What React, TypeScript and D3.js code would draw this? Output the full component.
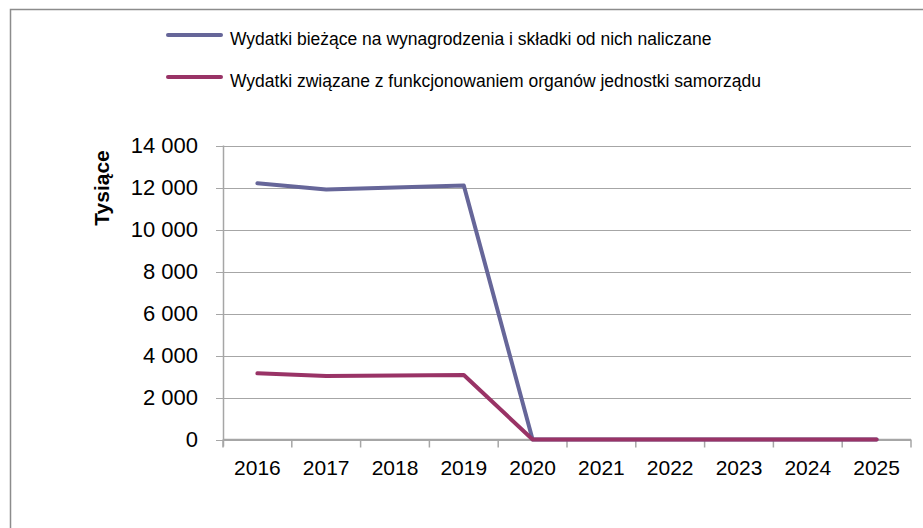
import React, { useEffect, useRef } from "react";
import * as d3 from "d3";

const years = ["2016", "2017", "2018", "2019", "2020", "2021", "2022", "2023", "2024", "2025"];
const wynagrodzenia = [12200, 11900, 12000, 12100, 0, 0, 0, 0, 0, 0];
const organy = [3150, 3020, 3050, 3070, 0, 0, 0, 0, 0, 0];
const seriesNames = [
  "Wydatki bieżące na wynagrodzenia i składki od nich naliczane",
  "Wydatki związane z funkcjonowaniem organów jednostki samorządu",
];
const seriesColors = ["#666699", "#993366"];
const yTicks = [0, 2000, 4000, 6000, 8000, 10000, 12000, 14000];
const yTitle = "Tysiące";

const W = 923;
const H = 528;

export default function App() {
  const ref = useRef<SVGSVGElement>(null);
  useEffect(() => {
    const svg = d3.select(ref.current);
    svg.selectAll("*").remove();
    const font = "'Liberation Sans', Arial, sans-serif";

    // outer border
    svg.append("rect").attr("x", 10.5).attr("y", 9.5).attr("width", 1000).attr("height", 600)
      .attr("fill", "white").attr("stroke", "#8c8c8c").attr("stroke-width", 1.5);

    const left = 223, right = 911, top = 145.5, bottom = 439.5;
    const x = d3.scaleBand().domain(years).range([left, right]);
    const y = d3.scaleLinear().domain([0, 14000]).range([bottom, top]);

    const g = svg.append("g");
    // gridlines + y ticks
    yTicks.forEach((t) => {
      g.append("line").attr("x1", left - 7).attr("x2", right).attr("y1", Math.round(y(t)) + 0.5).attr("y2", Math.round(y(t)) + 0.5)
        .attr("stroke", "#a6a6a6").attr("stroke-width", 1);
      g.append("text").attr("x", 198).attr("y", y(t)).attr("dy", "0.36em").attr("text-anchor", "end")
        .attr("font-family", font).attr("font-size", 22).attr("fill", "#000")
        .text(d3.format(",")(t).replace(/,/g, " "));
    });
    // y axis
    g.append("line").attr("x1", left + 0.5).attr("x2", left + 0.5).attr("y1", top).attr("y2", bottom + 7)
      .attr("stroke", "#a6a6a6").attr("stroke-width", 1.5);
    // x axis
    g.append("line").attr("x1", left).attr("x2", right).attr("y1", bottom).attr("y2", bottom)
      .attr("stroke", "#a6a6a6").attr("stroke-width", 1.5);
    const bounds = years.map((yr) => x(yr) as number).concat([right]);
    bounds.forEach((b) => {
      g.append("line").attr("x1", b).attr("x2", b).attr("y1", bottom).attr("y2", bottom + 8)
        .attr("stroke", "#a6a6a6").attr("stroke-width", 1.5);
    });
    years.forEach((yr) => {
      g.append("text").attr("x", (x(yr) as number) + x.bandwidth() / 2).attr("y", 475)
        .attr("text-anchor", "middle").attr("font-family", font).attr("font-size", 21).attr("fill", "#000")
        .text(yr);
    });

    // y title
    g.append("text").attr("transform", `translate(109,188) rotate(-90)`).attr("text-anchor", "middle")
      .attr("font-family", font).attr("font-size", 21).attr("font-weight", "bold").attr("fill", "#000")
      .text(yTitle);

    const line = d3.line<number>()
      .x((_, i) => (x(years[i]) as number) + x.bandwidth() / 2)
      .y((v) => y(v));
    [wynagrodzenia, organy].forEach((s, i) => {
      g.append("path").attr("d", line(s) as string).attr("fill", "none")
        .attr("stroke", seriesColors[i]).attr("stroke-width", 4)
        .attr("stroke-linejoin", "round").attr("stroke-linecap", "round");
    });

    // legend
    const legY = [35, 77];
    seriesNames.forEach((n, i) => {
      g.append("line").attr("x1", 168).attr("x2", 221).attr("y1", legY[i]).attr("y2", legY[i])
        .attr("stroke", seriesColors[i]).attr("stroke-width", 4).attr("stroke-linecap", "round");
      g.append("text").attr("x", 230).attr("y", legY[i] + 4).attr("dy", "0.35em")
        .attr("font-family", font).attr("font-size", 17.5).attr("fill", "#000").text(n);
    });
  }, []);
  return (
    <svg ref={ref} width={W} height={H} style={{ position: "absolute", left: 0, top: 0, background: "white" }} />
  );
}
